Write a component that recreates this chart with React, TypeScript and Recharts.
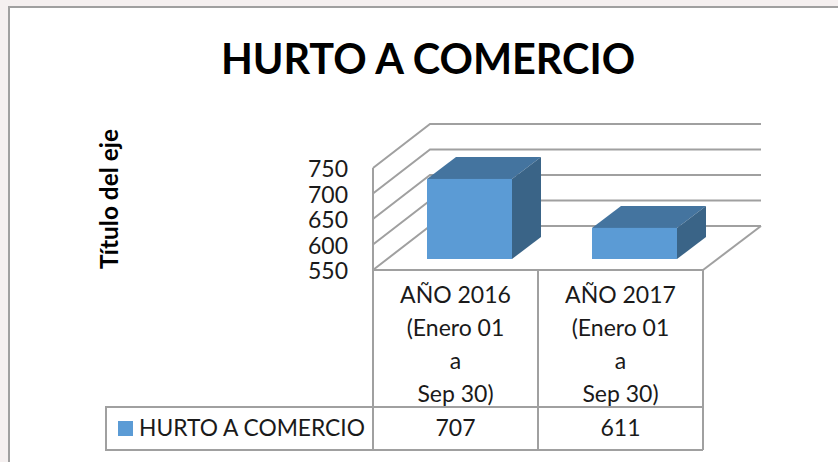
import { Bar, BarChart, CartesianGrid, XAxis, YAxis } from "recharts";

const chartTitle = "HURTO A COMERCIO";
const axisTitle = "Título del eje";
const seriesName = "HURTO A COMERCIO";
const categories = ["AÑO 2016", "AÑO 2017"];
const categorySubLines = ["(Enero 01", "a", "Sep 30)"];
const seriesValues = [707, 611];
const yTicks = [550, 600, 650, 700, 750];

const data = categories.map((name, i) => ({ name, value: seriesValues[i] }));

const FONT = "Lato, sans-serif";
const LINE = "#a0a0a0";
const TEXT = "#1a1a1a";
const WIDTH = 838;
const HEIGHT = 462;

// fake 3D: how far the back wall sits from the front of the floor
const DEPTH_X = 57;
const DEPTH_Y = 44;
// bars stand a quarter of the way in, and are half the floor deep
const BAR_X = 14;
const BAR_Y = 11;
const BAR_DEPTH_X = 29;
const BAR_DEPTH_Y = 22;

const Box = ({ x, y, width, height }: any) => {
    const left = x + BAR_X;
    const right = left + width;
    const top = y - BAR_Y;
    const bottom = top + height;
    return (
        <g>
            <polygon
                fill="#44749f"
                points={`${left},${top} ${right},${top} ${right + BAR_DEPTH_X},${top - BAR_DEPTH_Y} ${left + BAR_DEPTH_X},${top - BAR_DEPTH_Y}`}
            />
            <polygon
                fill="#3a6487"
                points={`${right},${top} ${right + BAR_DEPTH_X},${top - BAR_DEPTH_Y} ${right + BAR_DEPTH_X},${bottom - BAR_DEPTH_Y} ${right},${bottom}`}
            />
            <rect x={left} y={top} width={width} height={height} fill="#5b9bd5" />
        </g>
    );
};

const WallLine = ({ x1, x2, y1 }: any) => (
    <polyline
        fill="none"
        stroke={LINE}
        strokeWidth={2}
        points={`${x1},${y1} ${x1 + DEPTH_X},${y1 - DEPTH_Y} ${x2 + DEPTH_X + 1},${y1 - DEPTH_Y}`}
    />
);

const TableTick = ({ x, y, payload }: any) => {
    const half = 82.5;
    return (
        <g fontFamily={FONT} fontSize={23} fill={TEXT} textAnchor="middle">
            <line x1={x - half} x2={x - half} y1={y} y2={y + 180} stroke={LINE} strokeWidth={2} />
            <line x1={x + half} x2={x + half} y1={y} y2={y + 180} stroke={LINE} strokeWidth={2} />
            <text x={x} y={y + 33}>{payload.value}</text>
            {categorySubLines.map((line, i) => (
                <text key={line} x={x} y={y + 66 + i * 33}>{line}</text>
            ))}
            <text x={x} y={y + 166}>{seriesValues[payload.index]}</text>
        </g>
    );
};

export default function App() {
    return (
        <div style={{ position: "fixed", left: 0, top: 0, width: WIDTH, height: HEIGHT, background: "#f5f0f0" }}>
            <div
                style={{
                    position: "absolute",
                    left: 8,
                    top: 6,
                    right: 0,
                    bottom: 0,
                    background: "#fff",
                    borderLeft: `2px solid ${LINE}`,
                    borderTop: `2px solid ${LINE}`,
                }}
            />
            <BarChart
                width={WIDTH}
                height={HEIGHT}
                data={data}
                margin={{ top: 168, right: 135, bottom: 0, left: 0 }}
                style={{ position: "absolute", left: 0, top: 0 }}
            >
                <text x={428} y={74} textAnchor="middle" fontFamily={FONT} fontWeight={700} fontSize={41.4} fill="#000">
                    {chartTitle}
                </text>
                <text
                    transform="translate(118,199) rotate(-90)"
                    textAnchor="middle"
                    fontFamily={FONT}
                    fontWeight={700}
                    fontSize={24.4}
                    fill="#000"
                >
                    {axisTitle}
                </text>
                <CartesianGrid vertical={false} horizontal={(props: any) => <WallLine key={props.key} {...props} />} />
                <XAxis
                    dataKey="name"
                    height={192}
                    axisLine={{ stroke: LINE, strokeWidth: 2 }}
                    tickLine={false}
                    tickSize={0}
                    tickMargin={0}
                    interval={0}
                    tick={<TableTick />}
                />
                <YAxis
                    width={373}
                    domain={[550, 750]}
                    ticks={yTicks}
                    interval={0}
                    axisLine={{ stroke: LINE, strokeWidth: 2 }}
                    tickLine={false}
                    tickSize={0}
                    tickMargin={25}
                    tick={{ fontFamily: FONT, fontSize: 23, fill: TEXT, dy: 1 }}
                />
                <Bar dataKey="value" barSize={85} shape={<Box />} isAnimationActive={false} />
                {/* floor edge on the right, and the data table rows with the legend key */}
                <line x1={703} y1={270} x2={761} y2={226} stroke={LINE} strokeWidth={2} />
                <polyline fill="none" stroke={LINE} strokeWidth={2} points="703,407 106,407 106,450 703,450" />
                <rect x={118} y={421} width={15} height={15} fill="#5b9bd5" />
                <text x={139} y={436} fontFamily={FONT} fontSize={22.8} fill={TEXT}>{seriesName}</text>
            </BarChart>
        </div>
    );
}
